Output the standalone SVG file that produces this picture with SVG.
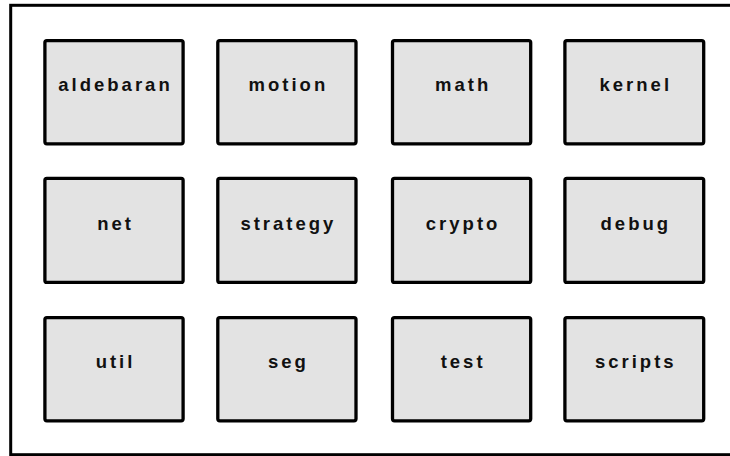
<svg xmlns="http://www.w3.org/2000/svg" width="730" height="456" viewBox="0 0 730 456">
<style>
.frame{fill:#ffffff;stroke:#000;stroke-width:3}
.box{fill:#e3e3e3;stroke:#000;stroke-width:3.3}
.lbl{font-family:"Liberation Sans",Arial,sans-serif;font-weight:bold;font-size:18.5px;letter-spacing:3px;fill:#111;text-anchor:middle}
</style>
<rect class="frame" x="10.7" y="5.3" width="725" height="449.4"/>
<g id="connectors"/>
<g id="aldebaran"><rect class="box" x="44.9" y="40.6" width="138.2" height="103.2" rx="2"/><text class="lbl" x="115.5" y="90.7">aldebaran</text></g>
<g id="motion"><rect class="box" x="217.8" y="40.6" width="138.2" height="103.2" rx="2"/><text class="lbl" x="288.4" y="90.7">motion</text></g>
<g id="math"><rect class="box" x="392.5" y="40.6" width="138.2" height="103.2" rx="2"/><text class="lbl" x="463.1" y="90.7">math</text></g>
<g id="kernel"><rect class="box" x="564.9" y="40.6" width="138.8" height="103.2" rx="2"/><text class="lbl" x="635.8" y="90.7">kernel</text></g>
<g id="net"><rect class="box" x="44.9" y="178.3" width="138.2" height="104.1" rx="2"/><text class="lbl" x="115.5" y="229.5">net</text></g>
<g id="strategy"><rect class="box" x="217.8" y="178.3" width="138.2" height="104.1" rx="2"/><text class="lbl" x="288.4" y="229.5">strategy</text></g>
<g id="crypto"><rect class="box" x="392.5" y="178.3" width="138.2" height="104.1" rx="2"/><text class="lbl" x="463.1" y="229.5">crypto</text></g>
<g id="debug"><rect class="box" x="564.9" y="178.3" width="138.8" height="104.1" rx="2"/><text class="lbl" x="635.8" y="229.5">debug</text></g>
<g id="util"><rect class="box" x="44.9" y="317.6" width="138.2" height="103.2" rx="2"/><text class="lbl" x="115.5" y="368">util</text></g>
<g id="seg"><rect class="box" x="217.8" y="317.6" width="138.2" height="103.2" rx="2"/><text class="lbl" x="288.4" y="368">seg</text></g>
<g id="test"><rect class="box" x="392.5" y="317.6" width="138.2" height="103.2" rx="2"/><text class="lbl" x="463.1" y="368">test</text></g>
<g id="scripts"><rect class="box" x="564.9" y="317.6" width="138.8" height="103.2" rx="2"/><text class="lbl" x="635.8" y="368">scripts</text></g>
</svg>
